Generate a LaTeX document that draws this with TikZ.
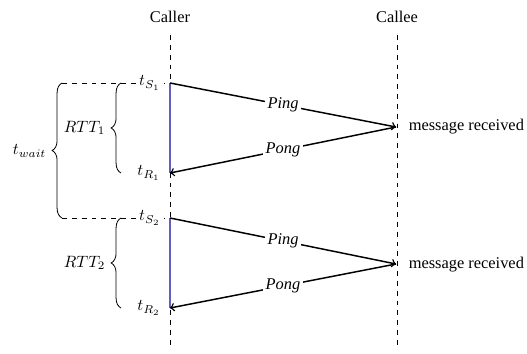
\documentclass[tikz,border=0pt]{standalone}
\usepackage{fontspec}
\setmainfont{Liberation Serif}
\usetikzlibrary{decorations.pathreplacing}
\definecolor{intervalblue}{RGB}{95,95,190}
\begin{document}
\begin{tikzpicture}[x=0.61pt,y=-0.61pt,
  lifeline/.style={dashed, line width=0.4pt},
  guide/.style={dashed, line width=0.4pt},
  msg/.style={->, line width=0.9pt},
  msglabel/.style={fill=white, inner sep=1.5pt, font=\itshape},
  interval/.style={intervalblue, line width=0.7pt},
  tick/.style={fill=white, inner sep=2pt},
  curly/.style={decorate, decoration={brace, amplitude=6pt}, line width=0.5pt}]
\useasboundingbox (0,0) rectangle (527,354);

% participants and lifelines
\node (caller) at (170,17) {Caller};
\node (callee) at (397,17) {Callee};
\coordinate (calltop) at (170,35);
\coordinate (callbot) at (170,346);
\coordinate (cetop) at (397,35);
\coordinate (cebot) at (397,346);
\draw[lifeline] (calltop) -- (callbot);
\draw[lifeline] (cetop) -- (cebot);

% event points
\coordinate (S1) at (170,83);
\coordinate (R1) at (170,173);
\coordinate (M1) at (396,127);
\coordinate (S2) at (170,218);
\coordinate (R2) at (170,308);
\coordinate (M2) at (396,264);
\coordinate (W1) at (62,83);
\coordinate (W2) at (62,218);

% guide lines to the waiting interval
\draw[guide] (W1) -- (S1);
\draw[guide] (W2) -- (S2);

% time labels
\node[tick, anchor=east] (tS1) at (164,83) {$t_{S_1}$};
\node[tick, anchor=east] (tR1) at (164,173) {$t_{R_1}$};
\node[tick, anchor=east] (tS2) at (164,218) {$t_{S_2}$};
\node[tick, anchor=east] (tR2) at (164,308) {$t_{R_2}$};

% round trip intervals on the caller
\draw[interval] (S1) -- (R1);
\draw[interval] (S2) -- (R2);

% messages
\draw[msg] (S1) -- node[msglabel, pos=0.5] (ping1) {Ping} (M1);
\draw[msg] (M1) -- node[msglabel, pos=0.5] (pong1) {Pong} (R1);
\draw[msg] (S2) -- node[msglabel, pos=0.5] (ping2) {Ping} (M2);
\draw[msg] (M2) -- node[msglabel, pos=0.5] (pong2) {Pong} (R2);
\node[anchor=west] (rcv1) at (403,127) {message received};
\node[anchor=west] (rcv2) at (403,265) {message received};

% braces
\coordinate (b1t) at (121,83);
\coordinate (b1b) at (121,173);
\coordinate (b2t) at (121,218);
\coordinate (b2b) at (121,308);
\draw[curly] (b1b) -- (b1t);
\draw[curly] (b2b) -- (b2t);
\draw[curly] (W2) -- (W1);
\node[anchor=east] (rtt1) at (111,128) {$RTT_1$};
\node[anchor=east] (rtt2) at (111,263) {$RTT_2$};
\node[anchor=east] (twait) at (52,151) {$t_{wait}$};
\end{tikzpicture}
\end{document}
